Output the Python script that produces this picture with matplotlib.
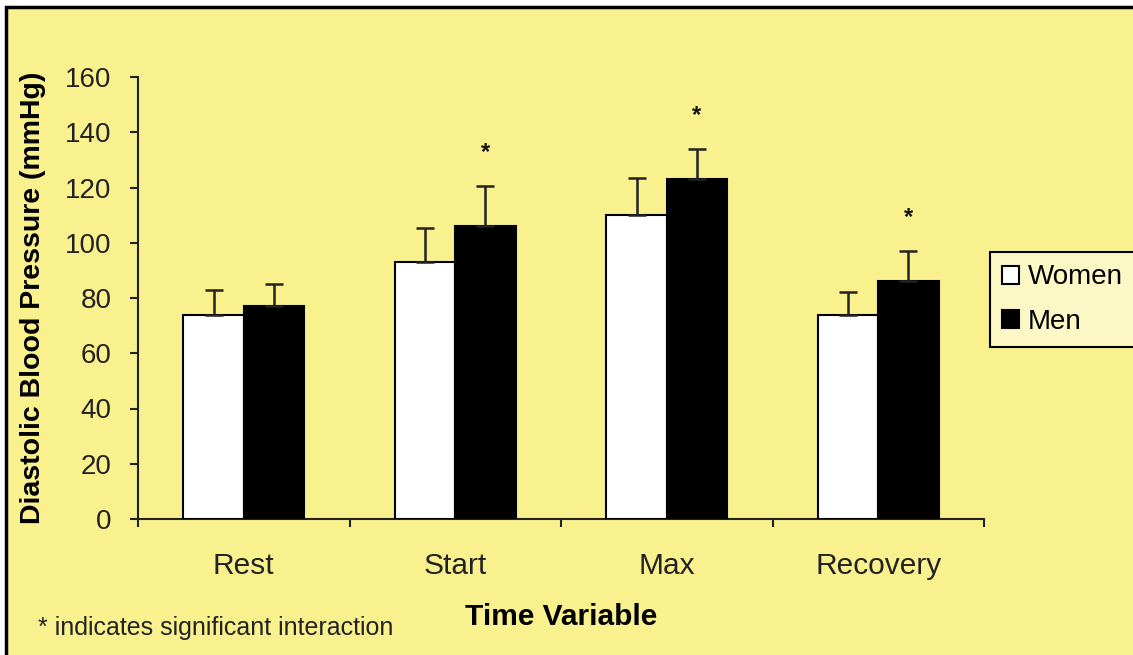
import numpy as np
import matplotlib
matplotlib.use("Agg")
import matplotlib.pyplot as plt
from matplotlib.patches import Rectangle

plt.rcParams['font.family'] = ['Liberation Sans', 'DejaVu Sans']

# data
categories = ["Rest", "Start", "Max", "Recovery"]
women = [74, 93, 110, 74]
women_err = [9, 12.5, 13.5, 8]
men = [77, 106, 123, 86]
men_err = [8, 14.5, 11, 11]
significant = [False, True, True, True]

bg = '#f9f18e'
W, H = 1133, 655

fig = plt.figure(figsize=(W / 100, H / 100), dpi=100, facecolor='white')
# outer chart frame (cropped at right and bottom)
fig.patches.append(Rectangle((6 / W, -0.05), 1.1, 1 - 7 / H + 0.05, transform=fig.transFigure,
                             facecolor=bg, edgecolor='black', linewidth=2.5, zorder=-5))

ax = fig.add_axes([138 / W, 1 - 519 / H, (984 - 138) / W, (519 - 77) / H])
ax.set_facecolor('none')

x = np.arange(len(categories))
bw = 0.285
ekw = dict(ecolor='#222222', elinewidth=1.8, capsize=6.5, capthick=1.8)
ax.bar(x - bw / 2, women, bw, color='white', edgecolor='black', linewidth=1.5, label='Women',
       yerr=[np.zeros(len(women)), women_err], error_kw=ekw, zorder=3)
ax.bar(x + bw / 2, men, bw, color='black', edgecolor='black', linewidth=1.5, label='Men',
       yerr=[np.zeros(len(men)), men_err], error_kw=ekw, zorder=3)

for i, sig in enumerate(significant):
    if sig:
        ax.annotate('*', xy=(x[i] + bw / 2, men[i] + men_err[i]), xytext=(0, 16),
                    textcoords='offset points', ha='center', va='bottom', fontsize=17,
                    fontweight='bold', color='#111111')

ax.set_ylim(0, 160)
ax.set_yticks(range(0, 161, 20))
ax.set_xlim(-0.5, len(categories) - 0.5)
ax.set_xticks(np.arange(len(categories) + 1) - 0.5)
ax.set_xticklabels([])
ax.set_xticks(x, minor=True)
ax.set_xticklabels(categories, minor=True)
ax.tick_params(axis='x', which='major', direction='out', length=6, width=1.5, color='#222222')
ax.tick_params(axis='x', which='minor', length=0, pad=24, labelsize=21.5, labelcolor='#222222')
ax.tick_params(axis='y', direction='out', length=6, width=1.5, color='#222222', pad=13,
               labelsize=20, labelcolor='#222222')
for s in ['top', 'right']:
    ax.spines[s].set_visible(False)
for s in ['left', 'bottom']:
    ax.spines[s].set_linewidth(1.5)
    ax.spines[s].set_color('#222222')

ax.set_ylabel('Diastolic Blood Pressure (mmHg)', fontsize=20.5, fontweight='bold', labelpad=14)
ax.set_xlabel('Time Variable', fontsize=21.5, fontweight='bold', labelpad=16)

fig.text(38 / W, 1 - 628 / H, '* indicates significant interaction', fontsize=18,
         ha='left', va='center', color='#222222')

leg = ax.legend(loc='upper left', bbox_to_anchor=(990 / W, 1 - 252 / H), bbox_transform=fig.transFigure,
                fontsize=20, frameon=True, fancybox=False, edgecolor='black', facecolor='#fcf8c6',
                handlelength=0.6, handleheight=0.6, handletextpad=0.3, borderpad=0.45,
                labelspacing=0.65, borderaxespad=0)
leg.get_frame().set_linewidth(1.5)
leg.get_frame().set_alpha(1)

fig.savefig('out.png', dpi=100, facecolor=fig.get_facecolor())
